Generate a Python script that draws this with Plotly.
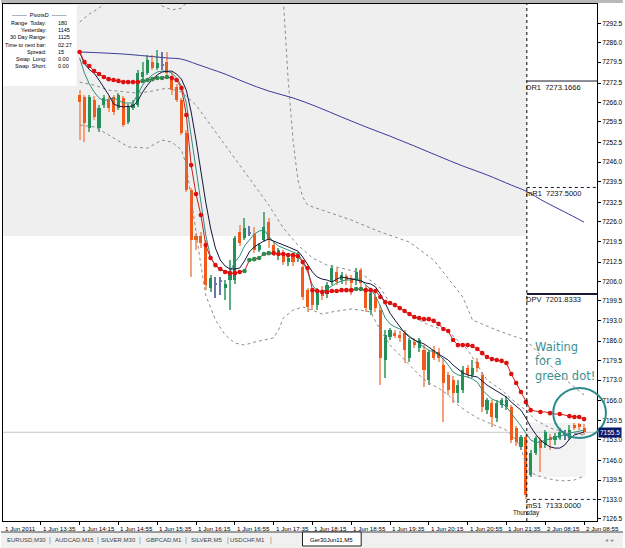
import plotly.graph_objects as go

# ---------------- data (Ger30 M5, 1-2 Jun 2011) ----------------
START = 16  # bar index of first candle (index 0 = 12:55)
opens = [7268.5, 7267.8, 7257.4, 7266.8, 7257.4, 7265.1, 7266.8, 7267.8, 7264.1, 7267.5,
         7259.4, 7264.1, 7265.1, 7274.5, 7275.8, 7279.5, 7277.5, 7278.9, 7279.5, 7274.5,
         7271.2, 7266.8, 7255.7, 7236.7, 7221.2, 7221.2, 7218.9, 7203.8, 7204.8, 7205.8,
         7203.8, 7206.5, 7206.5, 7222.6, 7220.6, 7222.6, 7221.9, 7216.5, 7219.9, 7225.9,
         7218.2, 7214.9, 7215.9, 7212.5, 7214.5, 7213.9, 7210.9, 7203.1, 7202.5, 7198.1,
         7203.1, 7201.8, 7205.8, 7209.2, 7206.5, 7207.9, 7207.2, 7206.5, 7209.8, 7203.1,
         7196.4, 7200.8, 7196.4, 7179.7, 7187.4, 7188.7, 7188.1, 7188.7, 7180.4, 7185.7,
         7183.7, 7183.1, 7173.0, 7183.1, 7182.4, 7178.0, 7174.7, 7173.0, 7168.6, 7169.7,
         7177.0, 7174.7, 7179.0, 7174.7, 7163.0, 7165.3, 7160.3, 7164.6, 7163.9, 7163.9,
         7156.9, 7150.6, 7153.9, 7141.2, 7148.5, 7152.9, 7151.2, 7153.9, 7152.9, 7153.6,
         7155.2, 7153.6, 7157.9, 7158.3, 7156.9]
highs = [7270.2, 7268.5, 7268.5, 7268.1, 7265.1, 7268.5, 7268.1, 7268.5, 7269.1, 7268.1,
         7265.5, 7266.8, 7276.9, 7279.5, 7281.9, 7281.9, 7283.6, 7282.9, 7282.9, 7276.2,
         7272.2, 7267.5, 7256.8, 7237.3, 7222.2, 7222.6, 7219.9, 7208.2, 7207.5, 7207.5,
         7206.5, 7213.2, 7221.2, 7224.9, 7227.3, 7224.6, 7224.3, 7218.9, 7229.3, 7227.3,
         7219.2, 7217.2, 7216.5, 7215.2, 7215.2, 7215.9, 7212.2, 7203.8, 7203.1, 7203.8,
         7204.5, 7205.8, 7211.5, 7210.5, 7209.2, 7208.5, 7208.2, 7210.5, 7210.5, 7204.8,
         7203.1, 7203.1, 7198.1, 7189.7, 7190.4, 7189.7, 7189.4, 7189.7, 7187.1, 7187.1,
         7187.1, 7184.7, 7183.1, 7184.4, 7183.7, 7180.4, 7175.7, 7174.3, 7173.0, 7177.7,
         7178.0, 7179.7, 7180.4, 7175.7, 7167.0, 7166.3, 7166.3, 7167.0, 7167.6, 7164.6,
         7157.6, 7154.6, 7154.6, 7149.5, 7154.2, 7153.9, 7156.2, 7154.9, 7155.2, 7156.9,
         7156.2, 7157.9, 7158.6, 7158.6, 7158.3]
lows = [7253.4, 7252.7, 7256.1, 7260.1, 7256.1, 7264.1, 7262.8, 7261.8, 7263.4, 7257.8,
        7258.8, 7263.4, 7264.5, 7273.5, 7275.2, 7276.9, 7276.9, 7276.9, 7275.2, 7268.5,
        7266.1, 7255.1, 7236.0, 7207.5, 7216.5, 7217.2, 7203.1, 7202.5, 7200.5, 7201.5,
        7199.8, 7196.4, 7205.2, 7217.9, 7219.9, 7221.2, 7215.5, 7215.9, 7219.2, 7217.2,
        7214.5, 7213.2, 7211.5, 7211.2, 7211.2, 7212.5, 7199.8, 7195.8, 7196.4, 7196.4,
        7199.8, 7200.5, 7204.8, 7204.8, 7205.2, 7204.8, 7201.5, 7204.8, 7204.2, 7195.8,
        7194.8, 7195.8, 7171.3, 7173.7, 7186.4, 7187.1, 7185.7, 7178.7, 7179.0, 7183.7,
        7182.4, 7170.7, 7171.3, 7179.7, 7179.0, 7158.9, 7168.0, 7165.3, 7165.3, 7168.6,
        7173.7, 7173.7, 7175.7, 7162.3, 7161.6, 7157.3, 7158.9, 7163.6, 7162.9, 7151.9,
        7150.9, 7149.5, 7133.0, 7140.5, 7147.9, 7142.2, 7150.2, 7149.5, 7151.2, 7152.9,
        7152.9, 7152.9, 7156.2, 7156.2, 7154.6]
closes = [7266.1, 7259.1, 7267.8, 7261.1, 7264.1, 7267.5, 7264.1, 7262.8, 7268.5, 7258.4,
          7264.5, 7265.5, 7275.8, 7276.2, 7280.2, 7277.5, 7279.2, 7278.2, 7275.8, 7270.2,
          7266.8, 7255.7, 7236.7, 7219.9, 7219.9, 7218.9, 7204.8, 7207.2, 7205.5, 7206.5,
          7205.2, 7208.2, 7220.6, 7218.9, 7223.9, 7221.9, 7216.5, 7218.2, 7224.3, 7219.9,
          7215.5, 7216.5, 7212.5, 7213.9, 7212.5, 7214.9, 7200.8, 7197.5, 7198.1, 7202.5,
          7201.1, 7204.8, 7210.5, 7205.8, 7208.2, 7206.5, 7205.5, 7209.2, 7205.5, 7197.1,
          7202.1, 7197.1, 7180.4, 7188.1, 7189.7, 7187.7, 7187.1, 7183.0, 7186.4, 7184.7,
          7186.4, 7176.3, 7182.4, 7180.4, 7180.4, 7172.0, 7169.7, 7168.6, 7171.3, 7176.3,
          7174.7, 7177.0, 7177.0, 7164.0, 7166.3, 7160.6, 7165.3, 7166.3, 7166.3, 7152.9,
          7152.2, 7153.9, 7134.5, 7148.5, 7153.6, 7150.2, 7155.6, 7152.9, 7154.2, 7155.6,
          7154.6, 7156.2, 7156.9, 7157.3, 7155.5]

# fast MA (teal) and slower MA (navy), one value per bar
ma_teal = [7280.9, 7275.8, 7272.2, 7269.5, 7267.5, 7266.5, 7267.1, 7267.5, 7266.8, 7265.8,
           7265.8, 7265.8, 7268.8, 7271.8, 7273.8, 7275.2, 7276.2, 7276.5, 7276.5, 7275.8,
           7274.2, 7271.5, 7265.8, 7255.1, 7243.4, 7233.3, 7221.6, 7214.2, 7211.2, 7210.2,
           7209.5, 7209.2, 7212.5, 7214.5, 7217.9, 7219.9, 7221.9, 7222.9, 7223.3, 7221.2,
           7219.2, 7217.9, 7217.2, 7216.5, 7215.9, 7215.2, 7212.9, 7209.2, 7204.8, 7202.8,
           7202.5, 7203.5, 7204.5, 7205.5, 7206.2, 7206.5, 7206.5, 7207.2, 7206.5, 7204.8,
           7203.5, 7201.1, 7197.8, 7193.8, 7191.8, 7190.8, 7190.1, 7189.1, 7187.7, 7186.4,
           7185.1, 7184.0, 7183.0, 7182.4, 7181.4, 7180.0, 7178.0, 7175.7, 7174.7, 7174.3,
           7174.0, 7173.3, 7172.3, 7169.7, 7168.0, 7166.6, 7166.0, 7165.3, 7164.0, 7161.9,
           7159.9, 7157.6, 7155.2, 7152.9, 7152.2, 7152.2, 7152.9, 7153.2, 7153.9, 7154.2,
           7154.6, 7155.2, 7155.6, 7155.9, 7156.2]
ma_navy = [7282.9, 7279.0, 7277.0, 7275.8, 7273.5, 7271.2, 7268.5, 7265.5, 7264.8, 7264.5,
           7264.6, 7264.8, 7266.5, 7269.5, 7271.8, 7273.8, 7275.2, 7276.2, 7276.4, 7276.5,
           7275.5, 7273.8, 7270.1, 7262.8, 7253.4, 7242.7, 7232.6, 7223.9, 7217.2, 7213.2,
           7211.2, 7210.2, 7210.2, 7210.5, 7212.9, 7215.9, 7217.6, 7218.6, 7219.6, 7220.2,
           7219.6, 7218.9, 7218.2, 7217.6, 7216.9, 7216.2, 7214.2, 7211.9, 7209.2, 7207.5,
           7206.8, 7206.5, 7205.8, 7206.8, 7207.5, 7207.2, 7206.8, 7206.5, 7206.2, 7205.5,
           7205.2, 7204.2, 7201.8, 7198.8, 7195.4, 7193.1, 7190.8, 7188.8, 7187.4, 7186.4,
           7185.7, 7185.1, 7184.0, 7182.7, 7181.7, 7180.7, 7179.7, 7178.0, 7176.7, 7175.4,
           7174.7, 7174.3, 7174.0, 7172.7, 7171.3, 7170.3, 7169.3, 7168.3, 7167.3, 7165.6,
           7164.3, 7162.9, 7160.3, 7157.3, 7154.9, 7152.9, 7151.6, 7150.6, 7150.2, 7150.2,
           7151.2, 7153.2, 7154.6, 7155.2, 7155.6]
# dotted signal MA (red = falling, green = rising, '-' = no dot drawn)
ma_dots = [7282.9, 7279.5, 7278.2, 7276.5, 7275.5, 7274.5, 7273.8, 7273.5, 7273.2, 7272.8,
           7272.8, 7272.8, 7272.8, 7273.2, 7273.5, 7273.8, 7274.2, 7274.2, 7274.5, 7274.2,
           7273.5, 7270.8, 7261.8, 7245.0, 7235.3, 7228.3, 7218.2, 7213.9, 7211.5, 7210.2,
           7209.2, 7208.8, 7208.8, 7209.2, 7209.5, 7213.2, 7213.5, 7213.9, 7215.2, 7215.5,
           7215.5, 7215.2, 7215.2, 7214.9, 7214.9, 7214.5, 7212.5, 7210.5, 7203.1, 7202.8,
           7202.5, 7202.5, 7202.8, 7202.8, 7203.1, 7203.1, 7203.1, 7203.5, 7203.5, 7203.1,
           7203.1, 7202.8, 7200.8, 7199.1, 7198.8, 7198.1, 7197.1, 7196.1, 7195.1, 7194.1,
           7193.8, 7193.4, 7193.4, 7192.8, 7191.8, 7190.1, 7189.4, 7186.4, 7184.7, 7184.7,
           7184.7, 7184.4, 7183.4, 7182.0, 7180.7, 7180.0, 7179.7, 7179.4, 7178.7, 7175.0,
           7172.0, 7169.0, 7165.6, 7162.9, 7162.6, 7162.3, 7162.3, 7161.9, 7161.6, 7161.6,
           7161.3, 7160.9, 7160.6, 7160.6, 7159.9]
dot_state = list("rrrrrrrrrrrrr" "gggggg" "rrrrrrrrrrrrrrr" "gggggg" "rrrrrrrrrrrrrrrrr"
                 "gg" "rrrrrrrrrrrrrrrrrrrrrrrrrrrrrrrrrrr" "-r-r-r-rrrr")

# slow MA (blue) read at selected bars
slow_idx = [16, 25, 34, 37, 40, 43, 46, 50, 55, 60, 65, 70, 75, 80, 85, 90, 95, 100, 105, 108, 112, 116, 120]
slow_val = [7282.9, 7282.2, 7280.9, 7280.5, 7278.9, 7277.2, 7275.5, 7272.8, 7269.8, 7267.5, 7264.5,
            7261.1, 7257.8, 7254.7, 7251.4, 7248.0, 7244.7, 7241.7, 7238.3, 7236.3, 7232.6, 7229.3, 7225.9]

# Bollinger bands read at selected bars (None = band is off the chart)
bb_up_idx = [16, 18, 20, 22, None, 31, 33, 35, 37, 39, None, 57, 58, 59, 60, 61, 62, 63, 67, 72, 78, 84,
             89, 95, 97, 102, 106, 108, 111, 115, 120]
bb_up_val = [7292.9, 7295.6, 7297.6, 7300.3, None, 7301.0, 7298.3, 7297.0, 7297.6, 7301.0, None,
             7303.7, 7300.3, 7273.5, 7253.4, 7240.0, 7234.3, 7231.6, 7229.3, 7226.6, 7222.6, 7219.2,
             7213.2, 7200.8, 7193.1, 7189.7, 7187.4, 7186.4, 7181.4, 7174.7, 7168.0]
bb_mid_idx = [16, 19, 22, 25, 28, 31, 34, 37, 40, 43, 46, 49, 52, 55, 58, 61, 64, 67, 70, 74, 78, 80,
              84, 88, 92, 96, 100, 103, 106, 108, 110, 113, 116, 120]
bb_mid_val = [7272.8, 7271.8, 7270.1, 7269.5, 7269.1, 7269.8, 7270.8, 7269.5, 7265.1, 7258.4, 7251.7,
              7245.0, 7238.3, 7231.6, 7223.9, 7218.2, 7213.9, 7211.5, 7210.5, 7208.8, 7203.8, 7198.8,
              7194.8, 7191.4, 7189.4, 7183.1, 7173.0, 7169.6, 7165.3, 7162.9, 7159.6, 7156.9, 7155.6,
              7154.6]
bb_lo_idx = [16, 19, 22, 26, 30, 33, 35, 37, 38, 39, 40, 41, 42, 44, 46, 48, 50, 52, 54, 56, 57, 58,
             60, 62, 64, 66, 68, 70, 72, 74, 76, 78, 80, 82, 84, 86, 88, 90, 92, 94, 96, 98, 100, 102,
             104, 106, 107, 108, 109, 110, 112, 114, 116, 118, 120]
bb_lo_val = [7258.4, 7257.8, 7255.1, 7251.1, 7250.7, 7253.4, 7252.7, 7250.1, 7245.0, 7233.3, 7221.6,
             7211.5, 7201.5, 7193.1, 7188.1, 7185.4, 7184.7, 7185.7, 7186.4, 7187.1, 7189.7, 7193.8,
             7196.4, 7197.5, 7196.4, 7195.1, 7195.8, 7196.4, 7196.8, 7196.4, 7195.8, 7189.7, 7184.7,
             7181.4, 7178.0, 7174.7, 7172.0, 7170.3, 7168.0, 7164.6, 7162.3, 7160.3, 7158.9, 7157.6,
             7156.2, 7152.9, 7150.2, 7144.5, 7142.2, 7141.2, 7140.2, 7139.5, 7139.2, 7139.5, 7140.8]

# pivot levels and ranges
pivots = [("DR1", 7273.1666, "solid"), ("mR1", 7237.5, "dot"), ("DPV", 7201.8333, "solid"), ("mS1", 7133.0, "dot")]
yesterday_low = 7221.25
today_low, today_high = 7140.5, 7158.6
bid = 7155.5
separator_idx = 108.2

tick_idx = [0, 8, 16, 24, 32, 40, 48, 56, 64, 72, 80, 88, 96, 104, 112, 120]
tick_lbl = ["1 Jun 2011", "1 Jun 13:35", "1 Jun 14:15", "1 Jun 14:55", "1 Jun 15:35", "1 Jun 16:15",
            "1 Jun 16:55", "1 Jun 17:35", "1 Jun 18:15", "1 Jun 18:55", "1 Jun 19:35", "1 Jun 20:15",
            "1 Jun 20:55", "1 Jun 21:35", "2 Jun 08:15", "2 Jun 08:55"]
price_ticks = [7292.5, 7286.0, 7279.5, 7272.5, 7266.0, 7259.5, 7252.5, 7246.0, 7239.5, 7232.5, 7226.0,
               7219.5, 7212.5, 7206.0, 7199.5, 7193.0, 7186.0, 7179.5, 7173.0, 7166.0, 7159.5, 7153.0,
               7146.0, 7139.5, 7133.0, 7126.5]

info_labels = ["Range  Today:", "Yesterday:", "30 Day Range:", "Time to next bar:", "Spread:", "Swap  Long:", "Swap  Short:"]
info_values = ["180", "1145", "1125", "02:27", "15", "0.00", "0.00"]
tabs = ["EURUSD,M30", "AUDCAD,M15", "SILVER,M30", "GBPCAD,M1", "SILVER,M5", "USDCHF,M1"]
active_tab = "Ger30Jun11,M5"

# ---------------- figure ----------------
W, H = 625, 548
L, R, T, B = 2, 26, 4, 27
X0, X1 = 0.205, 122.67
Y0, Y1 = 7125.77, 7298.97
PW, PH = W - L - R, H - T - B


def px(xp):   # page pixel -> paper x
    return (xp - L) / PW


def py(yp):   # page pixel -> paper y
    return (H - B - yp) / PH


idx = list(range(START, START + len(opens)))
BULL, BEAR, DOJI = "#23905a", "#f05a1a", "#6a76a8"
BULL_W, BEAR_W = "#5fae83", "#f4a27c"
BAND = dict(color="#8c8c8c", width=1, dash="dot")

fig = go.Figure()

# Bollinger bands
for bx, by in [(bb_up_idx, bb_up_val), (bb_mid_idx, bb_mid_val), (bb_lo_idx, bb_lo_val)]:
    fig.add_trace(go.Scatter(x=bx, y=by, mode="lines", line=BAND, connectgaps=False, cliponaxis=True,
                             hoverinfo="skip"))

# candles: wicks and bodies as overlaid bars
wick_col, body_col, body_base, body_h = [], [], [], []
for o, h, l, c in zip(opens, highs, lows, closes):
    if abs(c - o) < 0.8:
        wick_col.append(DOJI)
        body_col.append(DOJI)
    elif c > o:
        wick_col.append(BULL_W)
        body_col.append(BULL)
    else:
        wick_col.append(BEAR_W)
        body_col.append(BEAR)
    body_base.append(min(o, c))
    body_h.append(max(abs(c - o), 0.35))

fig.add_trace(go.Bar(x=idx, y=[h - l for h, l in zip(highs, lows)], base=lows, width=0.22,
                     marker=dict(color=wick_col, line=dict(width=0)), hoverinfo="skip"))
fig.add_trace(go.Bar(x=idx, y=body_h, base=body_base, width=0.64,
                     marker=dict(color=body_col, line=dict(width=0)), hoverinfo="skip"))

# moving averages
fig.add_trace(go.Scatter(x=slow_idx, y=slow_val, mode="lines", line=dict(color="#3b3b9c", width=1, shape="spline"),
                         hoverinfo="skip"))
fig.add_trace(go.Scatter(x=idx, y=ma_teal, mode="lines", line=dict(color="#2f8f7c", width=1), hoverinfo="skip"))
fig.add_trace(go.Scatter(x=idx, y=ma_navy, mode="lines", line=dict(color="#15153f", width=1), hoverinfo="skip"))
fig.add_trace(go.Scatter(x=idx, y=ma_dots, mode="lines", line=dict(color="#d41a1a", width=1), hoverinfo="skip"))
dx = [i for i, s in zip(idx, dot_state) if s != "-"]
dy = [v for v, s in zip(ma_dots, dot_state) if s != "-"]
dc = ["#2e8a4e" if s == "g" else "#dd1010" for s in dot_state if s != "-"]
fig.add_trace(go.Scatter(x=dx, y=dy, mode="markers", marker=dict(color=dc, size=4.6, line=dict(width=0)),
                         hoverinfo="skip"))

shapes = []
# yesterday's range shading and today's range box
shapes.append(dict(type="rect", xref="x", yref="y", x0=X0, x1=separator_idx, y0=yesterday_low, y1=Y1,
                   fillcolor="#efefef", line=dict(width=0), layer="below"))
shapes.append(dict(type="rect", xref="x", yref="y", x0=separator_idx + 0.3, x1=120.3, y0=today_low, y1=today_high,
                   fillcolor="#f3f3f3", line=dict(width=0), layer="below"))
# bid line
shapes.append(dict(type="line", xref="x", yref="y", x0=X0, x1=X1, y0=bid, y1=bid,
                   line=dict(color="#c4c4c4", width=1), layer="below"))
# day separator
shapes.append(dict(type="line", xref="x", yref="y", x0=separator_idx, x1=separator_idx, y0=Y0, y1=Y1,
                   line=dict(color="#000000", width=1, dash="dot")))
# pivot lines
for name, val, dash in pivots:
    shapes.append(dict(type="line", xref="x", yref="y", x0=separator_idx, x1=X1, y0=val, y1=val,
                       line=dict(color="#1a1a30", width=2 if name == "DPV" else 1, dash=dash)))
# info box
shapes.append(dict(type="rect", xref="paper", yref="paper", x0=px(2), x1=px(76), y0=py(86), y1=py(5),
                   fillcolor="white", line=dict(width=0)))
# circle
shapes.append(dict(type="circle", xref="paper", yref="paper", x0=px(555), x1=px(608), y0=py(438), y1=py(388),
                   line=dict(color="#2b8c8c", width=2)))
# window top strip
shapes.append(dict(type="rect", xref="paper", yref="paper", x0=px(0), x1=px(W), y0=py(3), y1=py(0),
                   fillcolor="#b8b8b8", line=dict(width=0)))
# tab strip
shapes.append(dict(type="rect", xref="paper", yref="paper", x0=px(0), x1=px(W), y0=py(H), y1=py(532),
                   fillcolor="#f0f0f0", line=dict(width=0)))
shapes.append(dict(type="line", xref="paper", yref="paper", x0=px(0), x1=px(W), y0=py(532), y1=py(532),
                   line=dict(color="#404040", width=1)))
shapes.append(dict(type="rect", xref="paper", yref="paper", x0=px(303), x1=px(362), y0=py(546), y1=py(532),
                   fillcolor="white", line=dict(color="#202020", width=1)))

ann = []
FONT = "Liberation Sans"
# x-axis labels (left aligned after tick)
for i, t in zip(tick_idx, tick_lbl):
    ann.append(dict(x=max(i, X0), y=0, xref="x", yref="paper", text=t, showarrow=False, xanchor="left",
                    yanchor="top", xshift=0, yshift=-2, font=dict(size=6.2, color="#000", family=FONT)))
# pivot labels
for name, val, dash in pivots:
    ann.append(dict(x=separator_idx - 0.6, y=val, xref="x", yref="y", text=f"{name}  {val:.4f}", showarrow=False,
                    xanchor="left", yanchor="middle", yshift=-6, font=dict(size=7.5, color="#101010", family=FONT)))
ann.append(dict(x=separator_idx, y=0, xref="x", yref="paper", text="Thursday", showarrow=False, xanchor="center",
                yanchor="bottom", yshift=2, font=dict(size=6.3, color="#101010", family=FONT)))
# bid price tag
ann.append(dict(x=1, y=bid, xref="paper", yref="y", text=f"{bid:.1f}", showarrow=False, xanchor="left",
                yanchor="middle", xshift=1, bgcolor="#0a1a6a", borderpad=1,
                font=dict(size=6.5, color="white", family=FONT)))
# info box text
ann.append(dict(x=px(39), y=py(15.5), xref="paper", yref="paper", text="--------  PivotsD  --------",
                showarrow=False, xanchor="center", yanchor="middle", font=dict(size=5.5, color="#000", family=FONT)))
for k, (lab, val) in enumerate(zip(info_labels, info_values)):
    yy = py(23 + 7.2 * k)
    ann.append(dict(x=px(48), y=yy, xref="paper", yref="paper", text=lab, showarrow=False, xanchor="right",
                    yanchor="middle", font=dict(size=5.5, color="#000", family=FONT)))
    ann.append(dict(x=px(55), y=yy, xref="paper", yref="paper", text=val, showarrow=False, xanchor="left",
                    yanchor="middle", font=dict(size=5.5, color="#000", family=FONT)))
# comment
for k, t in enumerate(["Waiting", "for a", "green dot!"]):
    ann.append(dict(x=px(535), y=py(347 + 14.5 * k), xref="paper", yref="paper", text=t, showarrow=False,
                    xanchor="left", yanchor="middle", font=dict(size=11.5, color="#3a9191", family="DejaVu Sans")))
# tabs
tab_cx = [25.5, 73.5, 118.5, 163.5, 207, 248]
sep_x = [49, 97, 140, 186, 228, 271]
for cx, t in zip(tab_cx, tabs):
    ann.append(dict(x=px(cx), y=py(540), xref="paper", yref="paper", text=t, showarrow=False, xanchor="center",
                    yanchor="middle", font=dict(size=6, color="#404040", family=FONT)))
for sx in sep_x:
    ann.append(dict(x=px(sx), y=py(540), xref="paper", yref="paper", text="|", showarrow=False, xanchor="center",
                    yanchor="middle", font=dict(size=7, color="#808080", family=FONT)))
ann.append(dict(x=px(332), y=py(539.5), xref="paper", yref="paper", text=active_tab, showarrow=False,
                xanchor="center", yanchor="middle", font=dict(size=6, color="#000", family=FONT)))
ann.append(dict(x=px(612), y=py(540), xref="paper", yref="paper", text="\u25c2  \u25b8", showarrow=False,
                xanchor="center", yanchor="middle", font=dict(size=6, color="#909090", family=FONT)))

fig.update_layout(
    width=W, height=H, margin=dict(l=L, r=R, t=T, b=B),
    paper_bgcolor="white", plot_bgcolor="white", showlegend=False, barmode="overlay",
    bargap=0, hovermode=False, shapes=shapes, annotations=ann,
    xaxis=dict(range=[X0, X1], showgrid=False, zeroline=False, showline=True, mirror=True, linecolor="#000",
               linewidth=1, ticks="outside", ticklen=3, tickcolor="#000", tickvals=tick_idx,
               showticklabels=False),
    yaxis=dict(range=[Y0, Y1], side="right", showgrid=False, zeroline=False, showline=True, mirror=True,
               linecolor="#000", linewidth=1, ticks="outside", ticklen=3, tickcolor="#000",
               tickvals=price_ticks, ticktext=[f"{v:.1f}" for v in price_ticks],
               tickfont=dict(size=6.5, color="#000", family=FONT)),
)

fig.write_html("out.html")
